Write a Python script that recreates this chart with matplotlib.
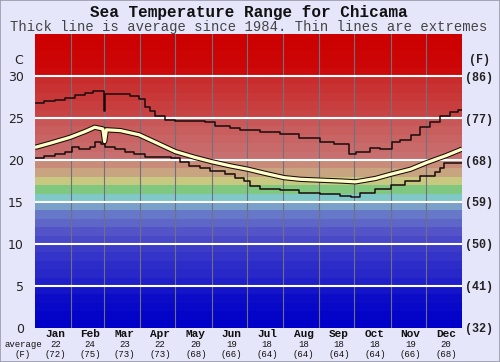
import matplotlib
matplotlib.use('Agg')
import matplotlib.pyplot as plt
import matplotlib.transforms as mtrans
from matplotlib.patches import Rectangle
import numpy as np

BG = '#e6e6fa'
MONO = 'Liberation Mono'

months = ['Jan', 'Feb', 'Mar', 'Apr', 'May', 'Jun', 'Jul', 'Aug', 'Sep', 'Oct', 'Nov', 'Dec']
month_edges = [0, 31, 59, 90, 120, 151, 181, 212, 243, 273, 304, 334, 365]
avg_c = [22, 24, 23, 22, 20, 19, 18, 18, 18, 18, 19, 20]
avg_f = [72, 75, 73, 73, 68, 66, 64, 64, 64, 64, 66, 68]
c_ticks = [0, 5, 10, 15, 20, 25, 30]
f_labels = ['(32)', '(41)', '(50)', '(59)', '(68)', '(77)', '(86)']

# average line (day of year, deg C)
avg_day = [0, 13, 30, 43, 51, 58, 59.5, 61, 73, 89, 103, 120, 137, 151, 167, 182,
           197, 213, 227, 244, 261, 274, 291, 304, 321, 335, 351, 365]
avg_temp = [21.5, 22.0, 22.7, 23.4, 23.9, 23.7, 22.2, 23.6, 23.5, 23.0, 22.1, 21.0, 20.3,
            19.8, 19.3, 18.9, 18.4, 17.9, 17.7, 17.6, 17.5, 17.4, 17.8, 18.3, 18.9, 19.7,
            20.5, 21.3]

# upper extreme
hi_day = [0, 8, 17, 26, 34, 43, 50, 58, 59, 60, 68, 81, 89, 94, 98, 103, 111, 120, 145,
          154, 167, 175, 192, 209, 226, 244, 256, 268, 274, 286, 295, 305, 312, 321, 329,
          338, 346, 355, 362, 365]
hi_temp = [26.8, 27.0, 27.2, 27.4, 27.7, 28.0, 28.2, 28.2, 25.8, 27.9, 27.8, 27.6, 27.3,
           26.3, 25.8, 25.2, 24.8, 24.6, 24.5, 24.0, 23.8, 23.6, 23.3, 23.1, 22.6, 22.2,
           21.9, 20.7, 20.9, 21.4, 21.3, 22.1, 22.4, 23.0, 23.9, 24.5, 25.2, 25.7, 26.0, 26.0]

# lower extreme
lo_day = [0, 8, 17, 26, 32, 38, 47, 51, 56, 60, 68, 77, 85, 94, 107, 116, 124, 132, 141,
          150, 162, 171, 179, 184, 192, 209, 226, 244, 261, 270, 278, 291, 304, 316, 329,
          342, 346, 350, 365]
lo_temp = [20.2, 20.5, 20.7, 21.0, 21.5, 21.3, 21.6, 22.1, 21.9, 21.5, 21.3, 21.0, 20.7,
           20.4, 20.3, 20.2, 19.8, 19.3, 19.1, 18.7, 18.3, 17.9, 17.5, 16.9, 16.6, 16.4,
           16.1, 15.9, 15.7, 15.6, 16.1, 16.5, 17.0, 17.5, 18.1, 18.6, 19.1, 19.7, 19.7]

# one colour per degree band, 0..35 C
band_colors = ['#0000c8', '#0404c8', '#0808c8', '#0c0cc8', '#1414c8',
               '#2020c8', '#2828c8', '#2c2cc8', '#3434c8', '#3c3cc8',
               '#4848c8', '#5454c8', '#5e66c8', '#6878c8', '#78a0c8',
               '#80c8c8', '#80c880', '#c8c880', '#c8a480', '#c88c78',
               '#c87070', '#c86a6a', '#c86464', '#c85e5e', '#c85858',
               '#c84444', '#c83e3e', '#c83838', '#c83232', '#c82c2c',
               '#cc0a0a', '#cc0606', '#cc0404', '#cc0202', '#cc0000']

fig = plt.figure(figsize=(5, 3.62), dpi=100, facecolor=BG)
ax = fig.add_axes([0.07, 0.094, 0.854, 0.812])
ax.set_xlim(0, 365)
ax.set_ylim(0, 35)

for i, c in enumerate(band_colors):
    ax.axhspan(i, i + 1, color=c, lw=0, zorder=0)
for d in month_edges[1:-1]:
    ax.axvline(d, color='#707080', lw=0.8, zorder=1)
for t in c_ticks[1:]:
    ax.axhline(t, color='white', lw=1.5, zorder=1)

ax.plot(hi_day, hi_temp, color='#1a0a0a', lw=1.1, drawstyle='steps-post', zorder=3)
ax.plot(lo_day, lo_temp, color='#1a0a0a', lw=1.1, drawstyle='steps-post', zorder=3)
ax.plot(avg_day, avg_temp, color='#1a0a0a', lw=3.8, zorder=4, solid_capstyle='butt')
ax.plot(avg_day, avg_temp, color='#ffffc8', lw=2.3, zorder=5, solid_capstyle='butt')

for s in ax.spines.values():
    s.set_visible(False)
ax.set_xticks([])
ax.set_yticks(c_ticks)
ax.set_yticklabels([str(t) for t in c_ticks], fontsize=9, color='#222222')
ax.tick_params(axis='y', length=0, pad=8)

ax2 = ax.twinx()
ax2.set_ylim(0, 35)
ax2.set_yticks(c_ticks)
ax2.set_yticklabels(f_labels, fontsize=8.5, family=MONO, fontweight='bold', color='#222222')
ax2.tick_params(axis='y', length=0, pad=2)
for s in ax2.spines.values():
    s.set_visible(False)

ytr = mtrans.blended_transform_factory(ax.transAxes, ax.transData)
ax.text(-0.038, 31.9, 'C', transform=ytr, ha='center', va='center', fontsize=9, color='#222222')
ax.text(1.04, 31.9, '(F)', transform=ytr, ha='center', va='center', fontsize=8.5,
        family=MONO, fontweight='bold', color='#222222')

# bottom month labels
btr = mtrans.blended_transform_factory(ax.transData, fig.transFigure)
for i, m in enumerate(months):
    xc = (month_edges[i] + month_edges[i + 1]) / 2 + 2
    ax.text(xc, 0.078, m, transform=btr, ha='center', va='center', fontsize=8,
            family=MONO, fontweight='bold', color='#111111')
    ax.text(xc, 0.049, str(avg_c[i]), transform=btr, ha='center', va='center',
            fontsize=6.5, family=MONO, color='#111111')
    ax.text(xc, 0.022, '(%d)' % avg_f[i], transform=btr, ha='center', va='center',
            fontsize=6.5, family=MONO, color='#111111')
fig.text(0.047, 0.049, 'average', ha='center', va='center', fontsize=6.5, family=MONO, color='#111111')
fig.text(0.045, 0.022, '(F)', ha='center', va='center', fontsize=6.5, family=MONO, color='#111111')

fig.text(0.497, 0.965, 'Sea Temperature Range for Chicama', ha='center', va='center',
         fontsize=11.5, family=MONO, fontweight='bold', color='#111111')
fig.text(0.497, 0.925, 'Thick line is average since 1984. Thin lines are extremes', ha='center',
         va='center', fontsize=10, family=MONO, color='#444444')

fig.patches.append(Rectangle((0, 0), 1, 1, transform=fig.transFigure, fill=False,
                             edgecolor='#9a9aaa', lw=1.2))

fig.savefig('out.png', dpi=100, facecolor=BG)
